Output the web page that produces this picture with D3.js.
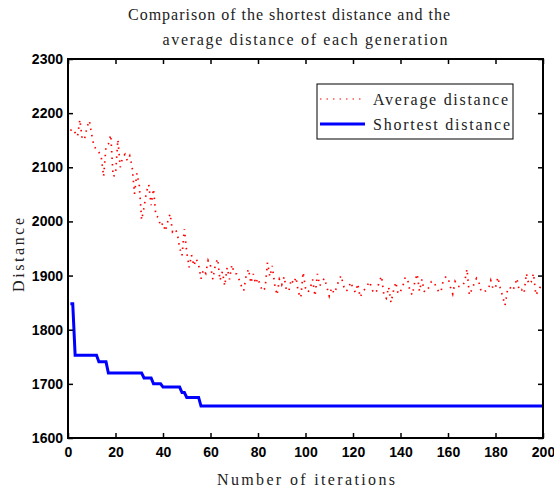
<!DOCTYPE html>
<html>
<head>
<meta charset="utf-8">
<script src="https://cdn.jsdelivr.net/npm/d3@7"></script>
<style>
  body { margin: 0; background: #fff; }
  .tick text { font-family: "Liberation Sans", Arial, sans-serif; font-weight: bold; font-size: 14px; fill: #000; }
  .lbl { font-family: "Liberation Serif", "Times New Roman", serif; font-size: 16px; fill: #222; }
</style>
</head>
<body>
<script>
// average distance per generation (iterations 1..200)
var avgDist = [
  2168, 2171, 2164, 2157, 2188, 2151, 2153, 2174, 2186, 2160, 2137, 2135, 2128, 2119, 2083,
  2139, 2143, 2160, 2083, 2086, 2151, 2100, 2118, 2124, 2112, 2121, 2101, 2051, 2089, 2068,
  2003, 2025, 2054, 2068, 2030, 2060, 2010, 2008, 1991, 1997, 1982, 2000, 2014, 1981, 1986,
  1979, 1951, 1937, 1986, 1943, 1915, 1938, 1918, 1931, 1920, 1894, 1911, 1904, 1928, 1918,
  1893, 1919, 1931, 1891, 1907, 1881, 1915, 1893, 1920, 1904, 1903, 1893, 1881, 1872, 1900,
  1912, 1886, 1903, 1885, 1895, 1881, 1871, 1877, 1924, 1898, 1918, 1884, 1864, 1893, 1883,
  1898, 1872, 1872, 1893, 1885, 1897, 1869, 1859, 1906, 1877, 1869, 1877, 1893, 1862, 1903,
  1881, 1889, 1895, 1879, 1862, 1877, 1867, 1877, 1891, 1900, 1881, 1871, 1875, 1888, 1877,
  1869, 1885, 1860, 1869, 1875, 1882, 1889, 1874, 1867, 1872, 1888, 1899, 1864, 1858, 1879,
  1850, 1871, 1888, 1866, 1871, 1881, 1897, 1893, 1871, 1864, 1888, 1903, 1871, 1893, 1871,
  1870, 1879, 1889, 1889, 1879, 1871, 1869, 1891, 1897, 1897, 1879, 1866, 1889, 1881, 1879,
  1881, 1888, 1912, 1864, 1874, 1885, 1895, 1888, 1870, 1870, 1872, 1875, 1891, 1875, 1878,
  1897, 1877, 1862, 1845, 1872, 1879, 1872, 1879, 1895, 1872, 1874, 1867, 1904, 1884, 1888,
  1904, 1864, 1872, 1880, 1887
];

// shortest distance: corner points of the step curve
var bestIter = [1, 2, 3, 12, 13, 16, 17, 31, 32, 35, 36, 39, 40, 47, 48, 49, 50, 55, 56, 200];
var bestVal  = [1848, 1848, 1753, 1753, 1741, 1741, 1720, 1720, 1711, 1711, 1700, 1700, 1694, 1694, 1684, 1684, 1675, 1675, 1659, 1659];

var xTicks = [0, 20, 40, 60, 80, 100, 120, 140, 160, 180, 200];
var yTicks = [1600, 1700, 1800, 1900, 2000, 2100, 2200, 2300];

var titleLines = ["Comparison of the shortest distance and the", "average distance of each generation"];
var legendLabels = ["Average distance", "Shortest distance"];

var svgW = 554, svgH = 490;
var margin = { top: 59, right: 11, bottom: 52, left: 68 };
var width = svgW - margin.left - margin.right;
var height = svgH - margin.top - margin.bottom;

var svg = d3.select("body").append("svg")
    .attr("width", svgW)
    .attr("height", svgH);

var g = svg.append("g")
    .attr("transform", "translate(" + margin.left + "," + margin.top + ")");

var x = d3.scaleLinear().domain([0, 200]).range([0, width]);
var y = d3.scaleLinear().domain([1600, 2300]).range([height, 0]);

var avgData = avgDist.map(function (v, i) { return { it: i + 1, v: v }; });
var bestData = bestIter.map(function (it, i) { return { it: it, v: bestVal[i] }; });

var line = d3.line()
    .x(function (d) { return x(d.it); })
    .y(function (d) { return y(d.v); });

// average line, dotted red
g.append("path")
    .datum(avgData)
    .attr("fill", "none")
    .attr("stroke", "#ff0000")
    .attr("stroke-width", 1.7)
    .attr("stroke-dasharray", "1.5,5")
    .attr("d", line);

// shortest line, solid blue
g.append("path")
    .datum(bestData)
    .attr("fill", "none")
    .attr("stroke", "#0000ff")
    .attr("stroke-width", 3)
    .attr("d", line);

// axes, ticks pointing inward, mirrored on top and right
var tickLen = 5;
var xAxis = g.append("g")
    .attr("transform", "translate(0," + height + ")")
    .call(d3.axisBottom(x).tickValues(xTicks).tickSizeInner(-tickLen).tickSizeOuter(0).tickPadding(9));
var yAxis = g.append("g")
    .call(d3.axisLeft(y).tickValues(yTicks).tickFormat(d3.format("d")).tickSizeInner(-tickLen).tickSizeOuter(0).tickPadding(5));
var xTop = g.append("g")
    .call(d3.axisTop(x).tickValues(xTicks).tickSizeInner(-tickLen).tickSizeOuter(0).tickFormat(""));
var yRight = g.append("g")
    .attr("transform", "translate(" + width + ",0)")
    .call(d3.axisRight(y).tickValues(yTicks).tickSizeInner(-tickLen).tickSizeOuter(0).tickFormat(""));

[xAxis, yAxis, xTop, yRight].forEach(function (a) {
  a.selectAll(".domain").remove();
  a.selectAll(".tick line").attr("stroke", "#000").attr("stroke-width", 1.5);
});

g.append("rect")
    .attr("width", width)
    .attr("height", height)
    .attr("fill", "none")
    .attr("stroke", "#000")
    .attr("stroke-width", 2);

// title
svg.selectAll(".title")
    .data(titleLines)
    .enter().append("text")
    .attr("class", "lbl")
    .attr("x", function (d, i) { return i === 0 ? 289 : 305; })
    .attr("y", function (d, i) { return 20 + i * 25; })
    .attr("text-anchor", "middle")
    .attr("textLength", function (d, i) { return i === 0 ? 322 : 285; })
    .attr("lengthAdjust", "spacing")
    .text(function (d) { return d; });

// axis labels
svg.append("text")
    .attr("class", "lbl")
    .attr("x", 306)
    .attr("y", 485)
    .attr("text-anchor", "middle")
    .attr("textLength", 178)
    .attr("lengthAdjust", "spacing")
    .text("Number of iterations");

svg.append("text")
    .attr("class", "lbl")
    .attr("transform", "translate(24,255) rotate(-90)")
    .attr("text-anchor", "middle")
    .attr("textLength", 74)
    .attr("lengthAdjust", "spacing")
    .text("Distance");

// legend
var leg = svg.append("g").attr("transform", "translate(317,84)");
leg.append("rect")
    .attr("width", 196)
    .attr("height", 55)
    .attr("fill", "#fff")
    .attr("stroke", "#000")
    .attr("stroke-width", 1);

var legStyles = [
  { stroke: "#ff0000", width: 1.2, dash: "1.5,5" },
  { stroke: "#0000ff", width: 3, dash: null }
];
legendLabels.forEach(function (lab, i) {
  var ly = 15 + i * 25;
  leg.append("line")
      .attr("x1", 3).attr("x2", 48)
      .attr("y1", ly).attr("y2", ly)
      .attr("stroke", legStyles[i].stroke)
      .attr("stroke-width", legStyles[i].width)
      .attr("stroke-dasharray", legStyles[i].dash);
  leg.append("text")
      .attr("class", "lbl")
      .attr("x", 56)
      .attr("y", ly + 6)
      .attr("textLength", i === 0 ? 135 : 137)
      .attr("lengthAdjust", "spacing")
      .text(lab);
});
</script>
</body>
</html>
